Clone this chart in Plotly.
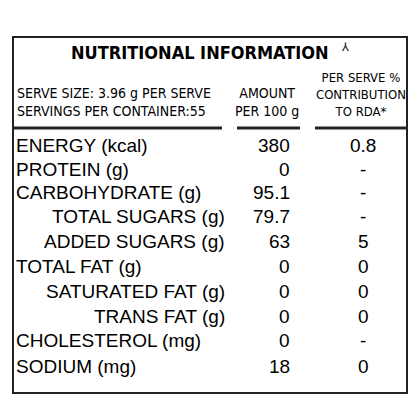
import plotly.graph_objects as go

title = "NUTRITIONAL INFORMATION"
header_left = ["SERVE SIZE: 3.96 g PER SERVE", "SERVINGS PER CONTAINER:55"]
header_amount = "AMOUNT<br>PER 100 g"
header_rda = "PER SERVE %<br>CONTRIBUTION<br>TO RDA*"

nutrients = ["ENERGY (kcal)", "PROTEIN (g)", "CARBOHYDRATE (g)", "TOTAL SUGARS (g)",
             "ADDED SUGARS (g)", "TOTAL FAT (g)", "SATURATED FAT (g)", "TRANS FAT (g)",
             "CHOLESTEROL (mg)", "SODIUM (mg)"]
sub_item = [False, False, False, True, True, False, True, True, False, False]
amount_100g = ["380", "0", "95.1", "79.7", "63", "0", "0", "0", "0", "18"]
rda_pct = ["0.8", "-", "-", "-", "5", "0", "0", "0", "-", "0"]

row_y = [145, 169, 192, 216, 241, 266, 291, 316, 340, 366]

narrow = "Liberation Sans Narrow, DejaVu Sans Condensed, Arial Narrow, sans-serif"
body = "Liberation Sans, Arial, sans-serif"

fig = go.Figure()
ann = []
ann.append(dict(x=200, y=52, text="<b>" + title + "</b>", showarrow=False,
                font=dict(family=narrow, size=18, color="black")))
ann.append(dict(x=345, y=46, text="⅄", showarrow=False, font=dict(size=12, color="black")))
ann.append(dict(x=15, y=102, text="<br>".join(header_left), showarrow=False, xanchor="left",
                align="left", font=dict(family=narrow, size=14, color="black")))
ann.append(dict(x=267, y=102, text=header_amount, showarrow=False,
                font=dict(family=narrow, size=14, color="black")))
ann.append(dict(x=361, y=94, text=header_rda, showarrow=False,
                font=dict(family=narrow, size=13, color="black")))

for name, sub, amt, rda, y in zip(nutrients, sub_item, amount_100g, rda_pct, row_y):
    if sub:
        ann.append(dict(x=227, y=y, text=name, showarrow=False, xanchor="right",
                        font=dict(family=body, size=19, color="black")))
    else:
        ann.append(dict(x=14, y=y, text=name, showarrow=False, xanchor="left",
                        font=dict(family=body, size=19, color="black")))
    ann.append(dict(x=292, y=y, text=amt, showarrow=False, xanchor="right",
                    font=dict(family=body, size=19, color="black")))
    ann.append(dict(x=363, y=y, text=rda, showarrow=False,
                    font=dict(family=body, size=19, color="black")))

line = dict(color="#222", width=2)
shapes = [
    dict(type="rect", x0=13, x1=407, y0=37, y1=393, line=line),
    dict(type="line", x0=13, x1=222, y0=128, y1=128, line=dict(color="#222", width=3)),
    dict(type="line", x0=237, x1=300, y0=128, y1=128, line=dict(color="#222", width=3)),
    dict(type="line", x0=315, x1=407, y0=128, y1=128, line=dict(color="#222", width=3)),
]

fig.update_layout(
    width=420, height=420, margin=dict(l=0, r=0, t=0, b=0),
    plot_bgcolor="white", paper_bgcolor="white",
    xaxis=dict(range=[8, 428], visible=False, fixedrange=True),
    yaxis=dict(range=[428, 8], visible=False, fixedrange=True),
    annotations=ann, shapes=shapes, showlegend=False,
)
fig.write_html("out.html")
